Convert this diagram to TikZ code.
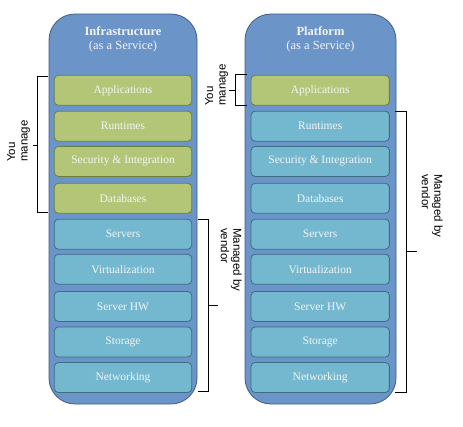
\documentclass[tikz,border=0pt]{standalone}
\usepackage{fontspec}
\setmainfont{Liberation Serif}
\setsansfont{Liberation Sans}
\definecolor{outerfill}{HTML}{6B94C8}
\definecolor{outerdraw}{HTML}{3E5C86}
\definecolor{greenfill}{HTML}{B3C677}
\definecolor{greendraw}{HTML}{6E7F3A}
\definecolor{bluefill}{HTML}{74B8D0}
\definecolor{bluedraw}{HTML}{3B6E80}
\definecolor{txt}{HTML}{F4F4F4}
\tikzset{
  column/.style={draw=outerdraw, fill=outerfill, line width=0.8pt, rounded corners=26pt, inner sep=0pt},
  layer/.style={rounded corners=4pt, line width=0.8pt, minimum height=30pt, inner sep=0pt,
    text=txt, font=\fontsize{11.5}{13}\selectfont},
  gbox/.style={layer, draw=greendraw, fill=greenfill},
  bbox/.style={layer, draw=bluedraw, fill=bluefill},
  title/.style={text=txt, align=center, font=\fontsize{12.5}{14}\selectfont, inner sep=0pt},
  brk/.style={draw=black, line width=0.7pt},
  lbl/.style={font=\sffamily\fontsize{11.5}{12.5}\selectfont, align=left, inner sep=0pt, anchor=north west}
}
\begin{document}
\begin{tikzpicture}[x=1pt,y=-1pt]
\useasboundingbox (0,0) rectangle (463,426);
\node[column, minimum width=148pt, minimum height=390pt] (colL) at (123,209) {};
\node[column, minimum width=151pt, minimum height=390pt] (colR) at (320.5,209) {};
\node[title] (tL) at (123,39) {\textbf{Infrastructure}\\(as a Service)};
\node[title] (tR) at (320.5,39) {\textbf{Platform}\\(as a Service)};
% left column
\node[gbox, minimum width=137.4pt] (l1) at (123,90.3) {Applications};
\node[gbox, minimum width=137.4pt] (l2) at (123,126.2) {Runtimes};
\node[gbox, minimum width=137.4pt] (l3) at (123,161.4) {Security \& Integration};
\node[gbox, minimum width=137.4pt] (l4) at (123,198.3) {Databases};
\node[bbox, minimum width=137.4pt] (l5) at (123,234.2) {Servers};
\node[bbox, minimum width=137.4pt] (l6) at (123,269.3) {Virtualization};
\node[bbox, minimum width=137.4pt] (l7) at (123,306.4) {Server HW};
\node[bbox, minimum width=137.4pt] (l8) at (123,342) {Storage};
\node[bbox, minimum width=137.4pt] (l9) at (123,377.5) {Networking};
% right column
\node[gbox, minimum width=138.3pt] (r1) at (320.2,90.3) {Applications};
\node[bbox, minimum width=138.3pt] (r2) at (320.2,126.2) {Runtimes};
\node[bbox, minimum width=138.3pt] (r3) at (320.2,161.4) {Security \& Integration};
\node[bbox, minimum width=138.3pt] (r4) at (320.2,198.3) {Databases};
\node[bbox, minimum width=138.3pt] (r5) at (320.2,234.2) {Servers};
\node[bbox, minimum width=138.3pt] (r6) at (320.2,269.3) {Virtualization};
\node[bbox, minimum width=138.3pt] (r7) at (320.2,306.4) {Server HW};
\node[bbox, minimum width=138.3pt] (r8) at (320.2,342) {Storage};
\node[bbox, minimum width=138.3pt] (r9) at (320.2,377.5) {Networking};
% brackets
\draw[brk] (48,76) -- (37.3,76) -- (37.3,212.7) -- (48,212.7);
\draw[brk] (37.3,145) -- (33,145);
\draw[brk] (197.7,219) -- (208.3,219) -- (208.3,391) -- (197.7,391);
\draw[brk] (208.3,305.3) -- (218,305.3);
\draw[brk] (246.7,74.7) -- (235.7,74.7) -- (235.7,105.3) -- (246.7,105.3);
\draw[brk] (235.7,90) -- (229,90);
\draw[brk] (395,111.3) -- (406.7,111.3) -- (406.7,392.3) -- (395,392.3);
\draw[brk] (406.7,251.7) -- (416.7,251.7);
% labels
\node[lbl, rotate=90] (ymL) at (7,162) {You\\manage};
\node[lbl, rotate=-90] (mvL) at (242,228) {Managed by\\vendor};
\node[lbl, rotate=90] (ymR) at (205,106) {You\\manage};
\node[lbl, rotate=-90] (mvR) at (443,174) {Managed by\\vendor};
\end{tikzpicture}
\end{document}
